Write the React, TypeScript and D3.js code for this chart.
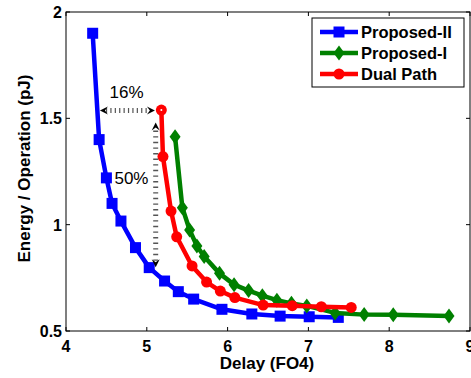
import React, { useEffect, useRef } from 'react'
import * as d3 from 'd3'

// Proposed-II (blue squares)
const proposed2Delay = [4.33, 4.41, 4.5, 4.57, 4.68, 4.86, 5.03, 5.22, 5.39, 5.58, 5.93, 6.3, 6.65, 7.01, 7.37]
const proposed2Energy = [1.9, 1.4, 1.22, 1.1, 1.017, 0.892, 0.798, 0.735, 0.685, 0.65, 0.602, 0.58, 0.57, 0.567, 0.564]

// Proposed-I (green diamonds)
const proposed1Delay = [5.35, 5.44, 5.53, 5.62, 5.71, 5.9, 6.08, 6.26, 6.43, 6.61, 6.79, 6.98, 7.33, 7.69, 8.05, 8.74]
const proposed1Energy = [1.413, 1.08, 0.975, 0.9, 0.85, 0.771, 0.718, 0.69, 0.666, 0.645, 0.63, 0.618, 0.585, 0.577, 0.576, 0.57]

// Dual Path (red circles)
const dualDelay = [5.18, 5.2, 5.3, 5.37, 5.56, 5.74, 5.91, 6.09, 6.44, 6.8, 7.16, 7.53]
const dualEnergy = [1.539, 1.32, 1.064, 0.943, 0.806, 0.73, 0.688, 0.657, 0.622, 0.619, 0.614, 0.611]

const xTicks = [4, 5, 6, 7, 8, 9]
const yTicks = [0.5, 1, 1.5, 2]
const legendLabels = ['Proposed-II', 'Proposed-I', 'Dual Path']

function App() {
  const svgRef = useRef<SVGSVGElement>(null)
  const width = 471
  const height = 378
  const margin = { top: 12, right: 1, bottom: 47, left: 66 }

  useEffect(() => {
    const svg = d3.select(svgRef.current)
    svg.selectAll('*').remove()

    const innerWidth = width - margin.left - margin.right
    const innerHeight = height - margin.top - margin.bottom
    const font = '"Liberation Sans", Arial, Helvetica, sans-serif'

    const g = svg.append('g').attr('transform', `translate(${margin.left},${margin.top})`)

    const x = d3.scaleLinear().domain([4, 9]).range([0, innerWidth])
    const y = d3.scaleLinear().domain([0.5, 2]).range([innerHeight, 0])

    // frame + inward ticks on all sides
    g.append('rect')
      .attr('width', innerWidth)
      .attr('height', innerHeight)
      .attr('fill', 'white')
      .attr('stroke', 'black')
      .attr('stroke-width', 1)

    const tickLen = 4
    xTicks.forEach(t => {
      g.append('line').attr('x1', x(t)).attr('x2', x(t)).attr('y1', innerHeight).attr('y2', innerHeight - tickLen).attr('stroke', 'black')
      g.append('line').attr('x1', x(t)).attr('x2', x(t)).attr('y1', 0).attr('y2', tickLen).attr('stroke', 'black')
      g.append('text')
        .attr('x', x(t))
        .attr('y', innerHeight + 21)
        .attr('text-anchor', 'middle')
        .attr('font-family', font)
        .attr('font-weight', 'bold')
        .attr('font-size', 16)
        .text(t)
    })
    yTicks.forEach(t => {
      g.append('line').attr('x1', 0).attr('x2', tickLen).attr('y1', y(t)).attr('y2', y(t)).attr('stroke', 'black')
      g.append('line').attr('x1', innerWidth).attr('x2', innerWidth - tickLen).attr('y1', y(t)).attr('y2', y(t)).attr('stroke', 'black')
      g.append('text')
        .attr('x', -4)
        .attr('y', y(t) + 6)
        .attr('text-anchor', 'end')
        .attr('font-family', font)
        .attr('font-weight', 'bold')
        .attr('font-size', 16)
        .text(t)
    })

    // axis labels
    g.append('text')
      .attr('x', innerWidth / 2 - 1)
      .attr('y', innerHeight + 38)
      .attr('text-anchor', 'middle')
      .attr('font-family', font)
      .attr('font-weight', 'bold')
      .attr('font-size', 17)
      .text('Delay (FO4)')

    g.append('text')
      .attr('transform', 'rotate(-90)')
      .attr('x', -(innerHeight / 2) + 3)
      .attr('y', -36)
      .attr('text-anchor', 'middle')
      .attr('font-family', font)
      .attr('font-weight', 'bold')
      .attr('font-size', 17)
      .text('Energy / Operation (pJ)')

    const series = [
      { xs: proposed2Delay, ys: proposed2Energy, color: '#0000ff', marker: 'square' },
      { xs: proposed1Delay, ys: proposed1Energy, color: '#008000', marker: 'diamond' },
      { xs: dualDelay, ys: dualEnergy, color: '#ff0000', marker: 'circle' },
    ]

    const line = d3.line<[number, number]>().x(d => x(d[0])).y(d => y(d[1]))

    const drawMarker = (sel: any, kind: string, cx: number, cy: number, color: string) => {
      if (kind === 'square') {
        sel.append('rect').attr('x', cx - 5.5).attr('y', cy - 5.5).attr('width', 11).attr('height', 11).attr('fill', color)
      } else if (kind === 'diamond') {
        sel.append('path')
          .attr('d', `M${cx},${cy - 7.5}L${cx + 5.5},${cy}L${cx},${cy + 7.5}L${cx - 5.5},${cy}Z`)
          .attr('fill', color)
      } else {
        sel.append('circle').attr('cx', cx).attr('cy', cy).attr('r', 5.5).attr('fill', color)
      }
    }

    // draw order: blue, green, red on top
    series.forEach(s => {
      const pts: [number, number][] = s.xs.map((v, i) => [v, s.ys[i]])
      g.append('path')
        .attr('d', line(pts))
        .attr('fill', 'none')
        .attr('stroke', s.color)
        .attr('stroke-width', 4.5)
        .attr('stroke-linejoin', 'round')
      pts.forEach(p => drawMarker(g, s.marker, x(p[0]), y(p[1]), s.color))
    })

    // white dot in the top Dual Path marker
    g.append('circle').attr('cx', x(dualDelay[0])).attr('cy', y(dualEnergy[0])).attr('r', 1).attr('fill', 'white')

    // annotations: dotted arrows
    const arrowHead = (tipX: number, tipY: number, dir: string) => {
      // dir: direction the arrow points to
      const L = 8, W = 4, notch = 3
      let pts: [number, number][]
      if (dir === 'left') pts = [[tipX, tipY], [tipX + L, tipY - W], [tipX + L - notch, tipY], [tipX + L, tipY + W]]
      else if (dir === 'right') pts = [[tipX, tipY], [tipX - L, tipY - W], [tipX - L + notch, tipY], [tipX - L, tipY + W]]
      else if (dir === 'up') pts = [[tipX, tipY], [tipX - W, tipY + L], [tipX, tipY + L - notch], [tipX + W, tipY + L]]
      else pts = [[tipX, tipY], [tipX - W, tipY - L], [tipX, tipY - L + notch], [tipX + W, tipY - L]]
      g.append('path').attr('d', 'M' + pts.map(p => p.join(',')).join('L') + 'Z').attr('fill', 'black')
    }

    const hY = y(1.537)
    const hX1 = x(4.42)
    const hX2 = x(5.1)
    g.append('line')
      .attr('x1', hX1 + 6).attr('x2', hX2 - 6).attr('y1', hY).attr('y2', hY)
      .attr('stroke', '#555').attr('stroke-width', 5).attr('stroke-dasharray', '1.2,3.2')
    arrowHead(hX1, hY, 'left')
    arrowHead(hX2, hY, 'right')

    const vX = x(5.11)
    const vY1 = y(1.48)
    const vY2 = y(0.8)
    g.append('line')
      .attr('x1', vX).attr('x2', vX).attr('y1', vY1 + 8).attr('y2', vY2 - 6)
      .attr('stroke', '#555').attr('stroke-width', 5).attr('stroke-dasharray', '1.4,4.2')
    arrowHead(vX, vY1, 'up')
    arrowHead(vX, vY2, 'down')

    g.append('text')
      .attr('x', x(4.75)).attr('y', y(1.597))
      .attr('text-anchor', 'middle')
      .attr('font-family', font)
      .attr('font-size', 17)
      .text('16%')
    g.append('text')
      .attr('x', x(4.81)).attr('y', y(1.192))
      .attr('text-anchor', 'middle')
      .attr('font-family', font)
      .attr('font-size', 17)
      .text('50%')

    // legend
    const lg = svg.append('g')
    lg.append('rect')
      .attr('x', 312).attr('y', 18).attr('width', 152).attr('height', 69)
      .attr('fill', 'white').attr('stroke', 'black').attr('stroke-width', 1)
    series.forEach((s, i) => {
      const ly = 32 + i * 21
      lg.append('line').attr('x1', 320).attr('x2', 358).attr('y1', ly).attr('y2', ly)
        .attr('stroke', s.color).attr('stroke-width', 4.5)
      drawMarker(lg, s.marker, 339, ly, s.color)
      lg.append('text')
        .attr('x', 361).attr('y', ly + 6)
        .attr('font-family', font)
        .attr('font-weight', 'bold')
        .attr('font-size', 16.5)
        .text(legendLabels[i])
    })
  }, [])

  return (
    <svg
      ref={svgRef}
      width={width}
      height={height}
      style={{ position: 'absolute', left: 0, top: 0, background: 'white' }}
    ></svg>
  )
}

export default App
